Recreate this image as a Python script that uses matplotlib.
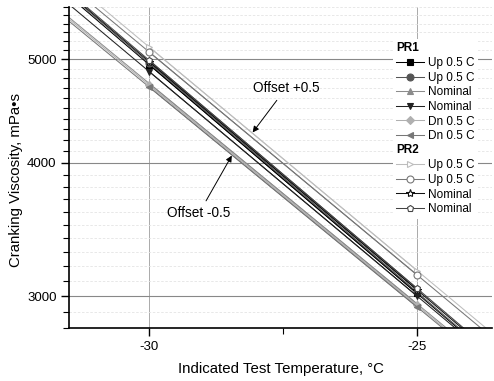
import matplotlib
matplotlib.use("Agg")
import matplotlib.pyplot as plt
from matplotlib.ticker import FixedLocator, MultipleLocator, NullFormatter, FixedFormatter
from matplotlib.legend_handler import HandlerBase
from matplotlib.text import Text

plt.rcParams['font.family'] = ['Liberation Sans', 'DejaVu Sans']
plt.rcParams['axes.unicode_minus'] = False

temps = [-30, -25]

# PR1 series (values read at -30 and -25 C)
pr1_labels = ["Up 0.5 C", "Up 0.5 C", "Nominal", "Nominal", "Dn 0.5 C", "Dn 0.5 C"]
pr1_values = [
    [4943, 3017],
    [4960, 3025],
    [4747, 2950],
    [4870, 3000],
    [4730, 2940],
    [4710, 2930],
]
# PR2 series
pr2_labels = ["Up 0.5 C", "Up 0.5 C", "Nominal", "Nominal"]
pr2_values = [
    [5135, 3170],
    [5080, 3140],
    [4975, 3040],
    [4990, 3050],
]

pr1_styles = [
    dict(marker='s', color='#000000', mfc='#000000'),
    dict(marker='o', color='#555555', mfc='#555555'),
    dict(marker='^', color='#8c8c8c', mfc='#8c8c8c'),
    dict(marker='v', color='#222222', mfc='#222222'),
    dict(marker='D', color='#b0b0b0', mfc='#b0b0b0', ms=4),
    dict(marker='<', color='#777777', mfc='#777777'),
]
pr2_styles = [
    dict(marker='>', color='#bdbdbd', mfc='white'),
    dict(marker='o', color='#777777', mfc='white'),
    dict(marker='*', color='#111111', mfc='white', ms=6),
    dict(marker='p', color='#444444', mfc='white'),
]


class Header:
    def __init__(self, title):
        self.title = title


class HeaderHandler(HandlerBase):
    def create_artists(self, legend, orig_handle, xdescent, ydescent,
                       width, height, fontsize, trans):
        t = Text(-xdescent, (height - ydescent) / 2, orig_handle.title,
                 fontsize=fontsize, fontweight='bold', va='center', ha='left',
                 transform=trans)
        return [t]


fig = plt.figure(figsize=(4.94, 3.81), dpi=100)
ax = fig.add_axes([69 / 494, 1 - 328 / 381, 423 / 494, 321 / 381])
ax.set_yscale('log')

handles, labels = [Header("PR1")], [""]
groups = [(pr1_values, pr1_labels, pr1_styles, "PR2"), (pr2_values, pr2_labels, pr2_styles, None)]
for values, labs, styles, next_header in groups:
    for vals, lab, st in zip(values, labs, styles):
        st = dict(st)
        ms = st.pop('ms', 5)
        ln, = ax.plot(temps, vals, ls='-', lw=0.75, ms=ms, mew=0.8, mec=st['color'], **st, zorder=3)
        ax.axline((temps[0], vals[0]), (temps[1], vals[1]), color=st['color'], lw=0.75, zorder=2)
        handles.append(ln)
        labels.append(lab)
    if next_header:
        handles.append(Header(next_header))
        labels.append("")

ax.set_xlim(-31.5, -23.6)
ax.set_ylim(2800, 5600)

ax.xaxis.set_major_locator(FixedLocator([-30, -25]))
ax.xaxis.set_major_formatter(FixedFormatter(["-30", "-25"]))
ax.xaxis.set_minor_locator(FixedLocator([-27.5]))
ax.yaxis.set_major_locator(FixedLocator([3000, 4000, 5000]))
ax.yaxis.set_major_formatter(FixedFormatter(["3000", "4000", "5000"]))
ax.yaxis.set_minor_locator(MultipleLocator(100))
ax.yaxis.set_minor_formatter(NullFormatter())

ax.tick_params(which='major', direction='out', length=6, width=1, labelsize=9.5, pad=3)
ax.tick_params(which='minor', direction='out', length=4, width=0.8)

for s in ['top', 'right']:
    ax.spines[s].set_visible(False)
for s in ['left', 'bottom']:
    ax.spines[s].set_linewidth(1.2)

ax.grid(True, which='major', axis='y', color='#888888', lw=0.8, ls='-')
ax.grid(True, which='minor', axis='y', color='#e4e4e4', lw=0.6, ls=(0, (3, 2)))
ax.grid(True, which='major', axis='x', color='#aaaaaa', lw=0.7, ls='-')
ax.set_axisbelow(True)

ax.set_xlabel("Indicated Test Temperature, °C", fontsize=10.8, labelpad=7)
ax.set_ylabel("Cranking Viscosity, mPa•s", fontsize=10.8)
ax.yaxis.set_label_coords(-0.108, 0.46)

ax.annotate("Offset +0.5", xy=(-28.07, 4271), xytext=(-27.45, 4698),
            ha='center', va='center', fontsize=9.8,
            arrowprops=dict(arrowstyle='-|>', color='black', lw=0.7,
                            mutation_scale=9, shrinkA=2, shrinkB=0))
ax.annotate("Offset -0.5", xy=(-28.46, 4063), xytext=(-29.07, 3589),
            ha='center', va='center', fontsize=9.8,
            arrowprops=dict(arrowstyle='-|>', color='black', lw=0.7,
                            mutation_scale=9, shrinkA=2, shrinkB=0))

leg = ax.legend(handles, labels, handler_map={Header: HeaderHandler()},
                loc='upper left', bbox_to_anchor=(0.765, 0.90), fontsize=8.5,
                frameon=True, facecolor='white', edgecolor='none', framealpha=1,
                handlelength=2.4, handletextpad=0.3, labelspacing=0.22,
                borderpad=0.3, borderaxespad=0)
leg.set_zorder(5)

fig.savefig("out.png", dpi=100)
